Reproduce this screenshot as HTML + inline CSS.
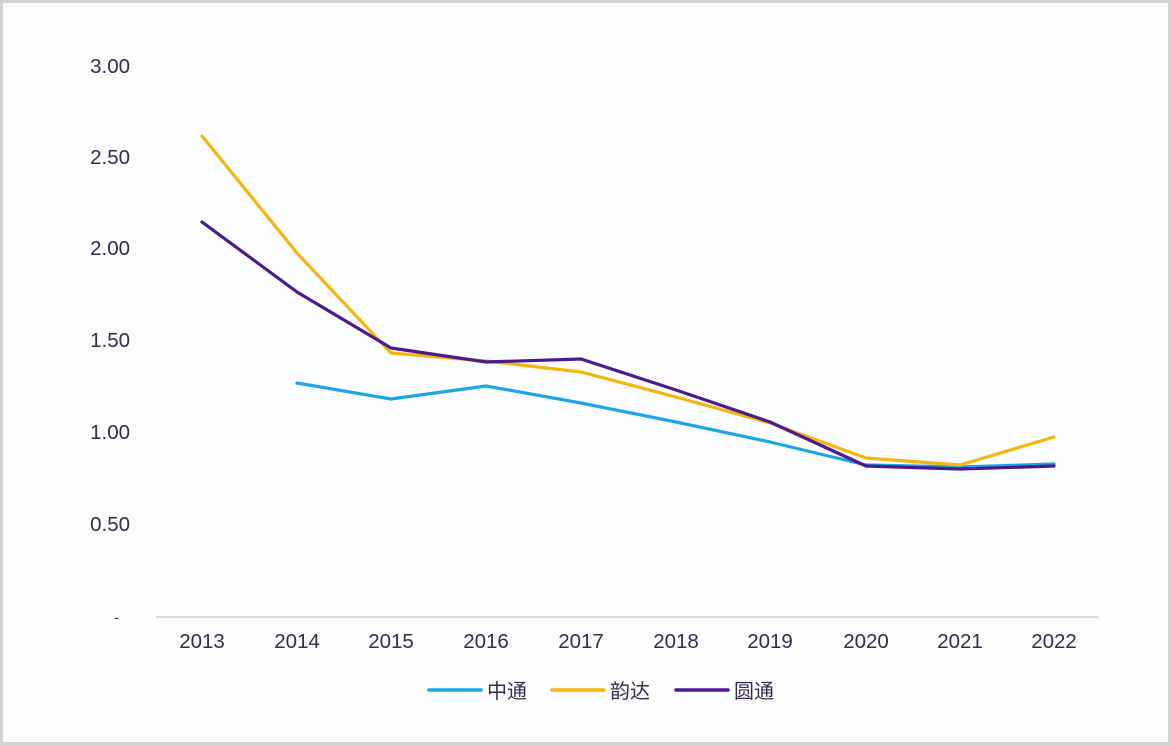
<!DOCTYPE html>
<html><head><meta charset="utf-8"><style>
html,body{margin:0;padding:0;background:#fff;}
.wrap{width:1172px;height:746px;box-sizing:border-box;border:3px solid #d2d2d4;border-right-width:4px;border-bottom-width:4px;background:#fbfcfe;position:relative;overflow:hidden;}
svg{position:absolute;left:-3px;top:-3px;}
text{font-family:"Liberation Sans","Noto Sans CJK SC",sans-serif;fill:#3a2a4e;}
</style></head><body><div class="wrap">
<svg width="1172" height="746" viewBox="0 0 1172 746" xmlns="http://www.w3.org/2000/svg">
<g font-size="20.5" text-anchor="end">
<text x="130" y="73">3.00</text>
<text x="130" y="164">2.50</text>
<text x="130" y="255">2.00</text>
<text x="130" y="347">1.50</text>
<text x="130" y="439">1.00</text>
<text x="130" y="531">0.50</text>
<text x="119" y="622" font-size="14">-</text>
</g>
<line x1="156" y1="617" x2="1098" y2="617" stroke="#c9ccd2" stroke-width="1.5"/>
<g font-size="20.5" text-anchor="middle">
<text x="202" y="648">2013</text>
<text x="297" y="648">2014</text>
<text x="391" y="648">2015</text>
<text x="486" y="648">2016</text>
<text x="581" y="648">2017</text>
<text x="676" y="648">2018</text>
<text x="770" y="648">2019</text>
<text x="866" y="648">2020</text>
<text x="960" y="648">2021</text>
<text x="1054" y="648">2022</text>
</g>
<g fill="none" stroke-width="3.2" stroke-linejoin="round" stroke-linecap="round">
<polyline stroke="#1ba6e6" points="297,383 391,399 486,386 581,403 676,422 770,442 866,465 960,467 1054,464"/>
<polyline stroke="#f5b50a" points="202,136 297,253 391,353 486,361 581,372 676,397 770,423 866,458 960,465 1054,437"/>
<polyline stroke="#4a1a8e" points="202,222 297,292 391,348 486,362 581,359 676,390 770,422 866,466 960,469 1054,466"/>
</g>
<g stroke-width="3.5" stroke-linecap="round">
<line x1="429" y1="690" x2="481" y2="690" stroke="#1ba6e6"/>
<line x1="552" y1="690" x2="604" y2="690" stroke="#f5b50a"/>
<line x1="676" y1="690" x2="728" y2="690" stroke="#4a1a8e"/>
</g>
<g font-size="20">
<text x="487" y="698">中通</text>
<text x="610" y="698">韵达</text>
<text x="734" y="698">圆通</text>
</g>
</svg>
</div></body></html>
